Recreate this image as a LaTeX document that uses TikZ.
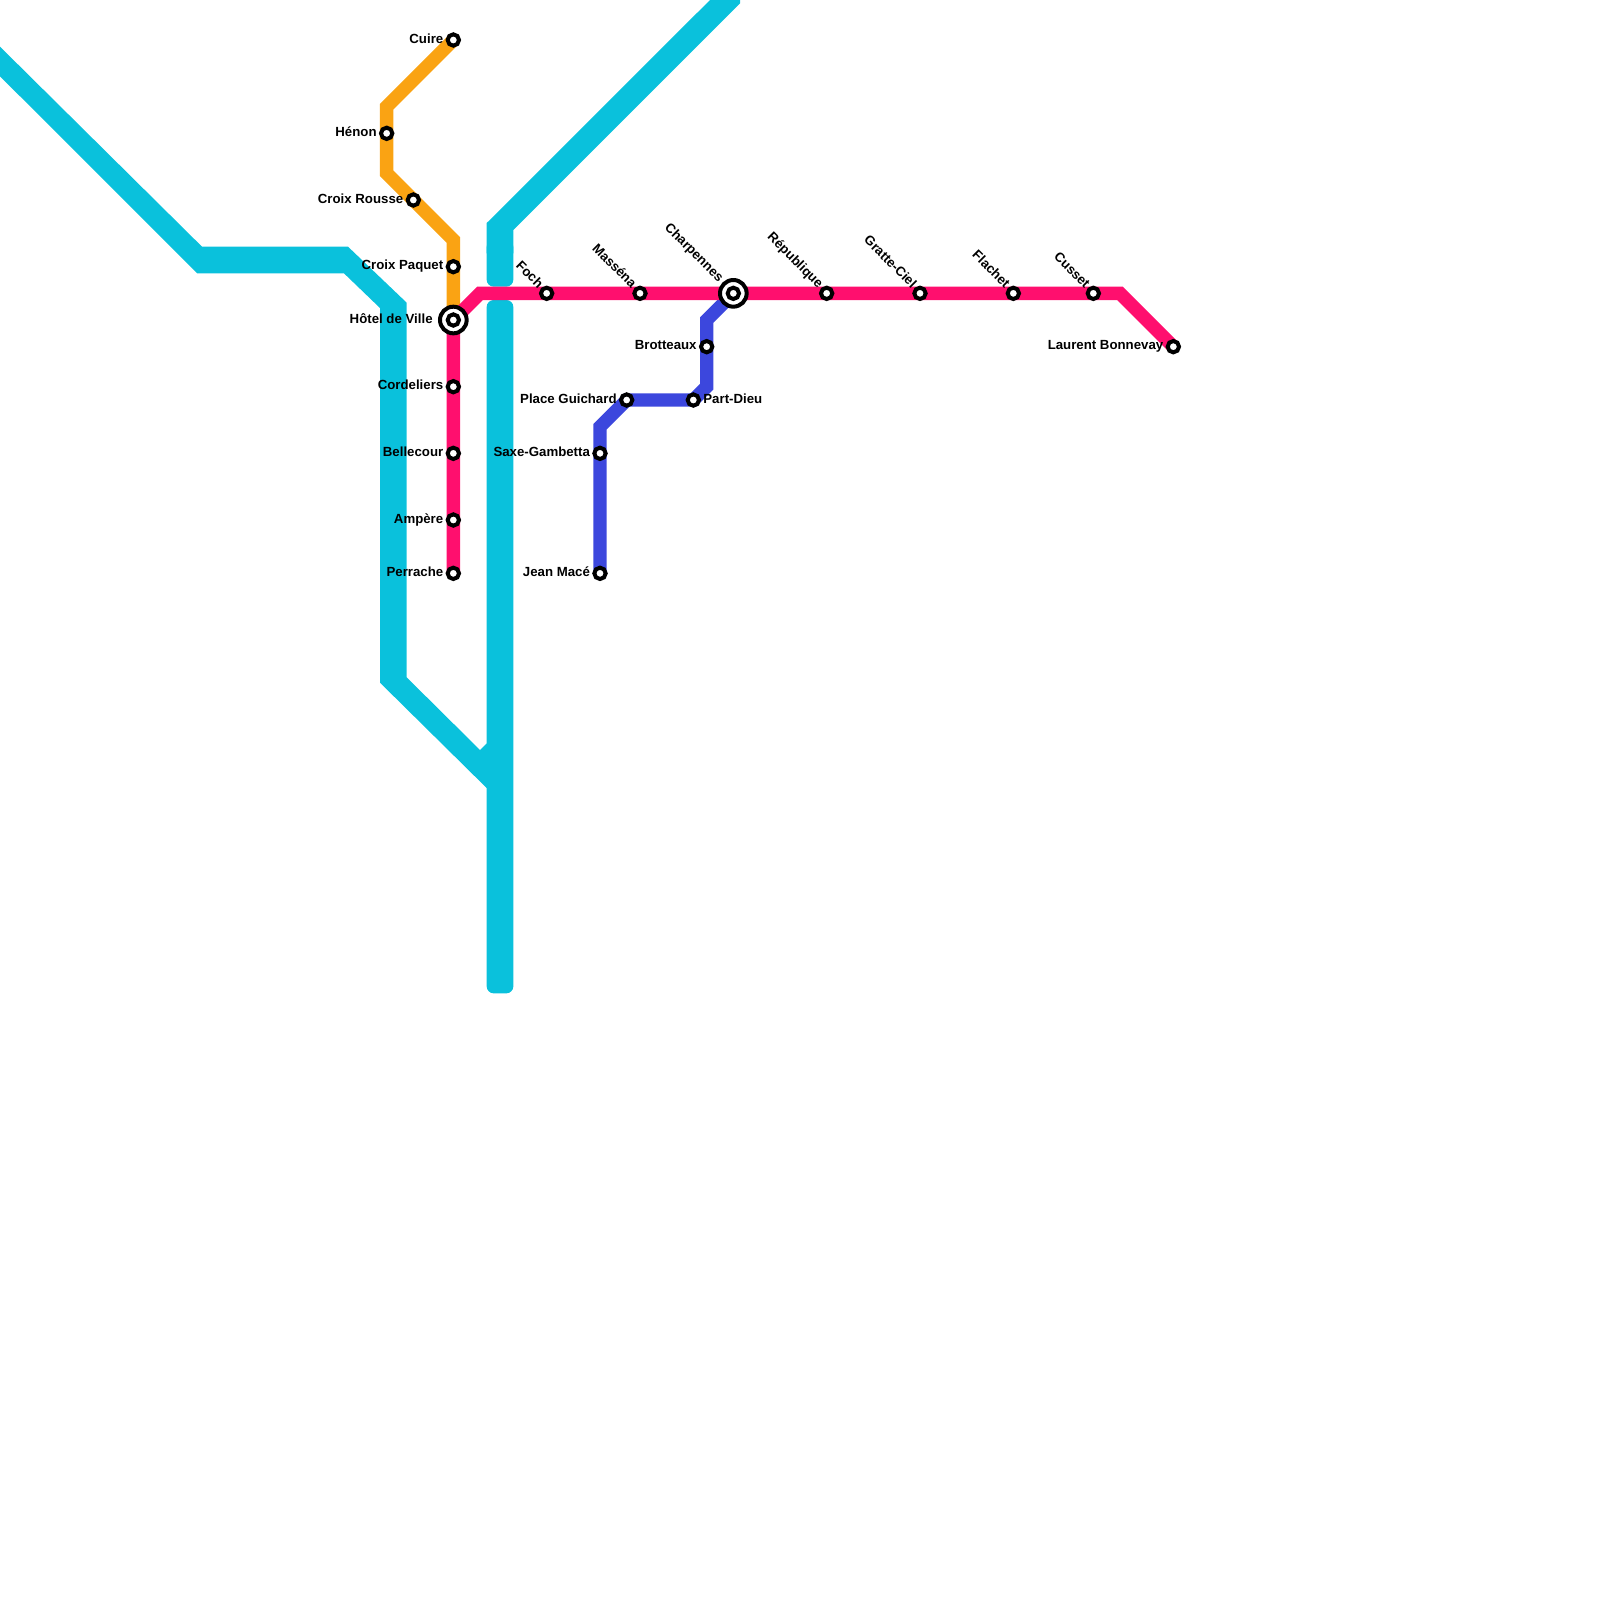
\documentclass[tikz,border=0pt]{standalone}
\usepackage{fontspec}
\setmainfont{Liberation Sans}
\usetikzlibrary{positioning, backgrounds}
\definecolor{lineA}{HTML}{FF0F6E}
\definecolor{lineB}{HTML}{3C47DD}
\definecolor{lineC}{HTML}{FAA313}
\definecolor{lineD}{HTML}{0AC1DC}
\tikzstyle{track} = [line width=6.67pt]
\tikzstyle{station} = [circle, draw=black, fill=white, line width=2pt, inner sep=0pt, minimum size=5.67pt]
\tikzstyle{hub} = [circle, draw=black, fill=white, line width=2pt, inner sep=0pt, minimum size=13.33pt]
\tikzstyle{lbl} = [font=\bfseries\fontsize{6.62pt}{8pt}\selectfont, inner sep=0pt, text height=4.8pt, text depth=1.8pt]
\tikzstyle{slanted} = [lbl, rotate=-45]

\begin{document}
\begin{tikzpicture}[x=6.6667pt, y=-6.6667pt]
\useasboundingbox (0,0) rectangle (120,120);
\clip (0,0) rectangle (120,120);

% Coordinates
\coordinate (o1) at (29,8);
\coordinate (o2) at (29,13);
\coordinate (o3) at (34,18);
\coordinate (p1) at (36,22);
\coordinate (p2) at (84,22);
\coordinate (b1) at (45,32);
\coordinate (b2) at (53,29);
\coordinate (b3) at (53,24);

% Stations
\node (cuire) [station] at (34,3) {};
\node (henon) [station] at (29,10) {};
\node (rousse) [station] at (31,15) {};
\node (paquet) [station] at (34,20) {};
\node (ville) [hub] at (34,24) {};
\node (ville2) [station] at (34,24) {};
\node (cordeliers) [station] at (34,29) {};
\node (bellecour) [station] at (34,34) {};
\node (ampere) [station] at (34,39) {};
\node (perrache) [station] at (34,43) {};
\node (foch) [station] at (41,22) {};
\node (massena) [station] at (48,22) {};
\node (charpennes) [hub] at (55,22) {};
\node (charpennes2) [station] at (55,22) {};
\node (republique) [station] at (62,22) {};
\node (gratte) [station] at (69,22) {};
\node (flachet) [station] at (76,22) {};
\node (cusset) [station] at (82,22) {};
\node (bonnevay) [station] at (88,26) {};
\node (brotteaux) [station] at (53,26) {};
\node (partdieu) [station] at (52,30) {};
\node (guichard) [station] at (47,30) {};
\node (saxe) [station] at (45,34) {};
\node (mace) [station] at (45,43) {};

% Lines
\begin{pgfonlayer}{background}
\fill [lineD] (0,3.5) -- (15.15,18.5) -- (26.1,18.5) -- (30.5,22.7) -- (30.5,50.8) -- (36,56.25) -- (36.5,55.75) -- (37,58) -- (36.5,59.1) -- (28.5,51.2) -- (28.5,23.1) -- (25.8,20.5) -- (14.8,20.5) -- (0,5.72) -- cycle;
\fill [lineD, rounded corners=3.5pt] (36.5,22.5) rectangle (38.5,74.5);
\fill [lineD] (36.5,19) -- (36.5,16.73) -- (53.25,0) -- (55.5,0) -- (55.5,0.25) -- (38.5,17.25) -- (38.5,19) -- cycle;
\fill [lineD, rounded corners=3.5pt] (36.5,18) rectangle (38.5,21.5);
\draw [track, lineC] (cuire.center) -- (o1) -- (henon.center) -- (o2) -- (rousse.center) -- (o3) -- (paquet.center) -- (ville.center);
\draw [track, lineB] (mace.center) -- (saxe.center) -- (b1) -- (guichard.center) -- (partdieu.center) -- (b2) -- (brotteaux.center) -- (b3) -- (charpennes.center);
\draw [track, lineA] (perrache.center) -- (ampere.center) -- (bellecour.center) -- (cordeliers.center) -- (ville.center) -- (p1) -- (foch.center) -- (massena.center) -- (charpennes.center) -- (republique.center) -- (gratte.center) -- (flachet.center) -- (cusset.center) -- (p2) -- (bonnevay.center);
\end{pgfonlayer}

% Names
\node (tcuire) [lbl, left=1pt of cuire] {Cuire};
\node (thenon) [lbl, left=1pt of henon] {Hénon};
\node (trousse) [lbl, left=1pt of rousse] {Croix Rousse};
\node (tpaquet) [lbl, left=1pt of paquet] {Croix Paquet};
\node (tville) [lbl, left=2.5pt of ville] {Hôtel de Ville};
\node (tcordeliers) [lbl, left=1pt of cordeliers] {Cordeliers};
\node (tbellecour) [lbl, left=1pt of bellecour] {Bellecour};
\node (tampere) [lbl, left=1pt of ampere] {Ampère};
\node (tperrache) [lbl, left=1pt of perrache] {Perrache};
\node (tbonnevay) [lbl, left=1pt of bonnevay] {Laurent Bonnevay};
\node (tbrotteaux) [lbl, left=1pt of brotteaux] {Brotteaux};
\node (tguichard) [lbl, left=1pt of guichard] {Place Guichard};
\node (tsaxe) [lbl, left=1pt of saxe] {Saxe-Gambetta};
\node (tmace) [lbl, left=1pt of mace] {Jean Macé};
\node (tpartdieu) [lbl, right=1pt of partdieu] {Part-Dieu};
\node (tfoch) [slanted, above left=0.5pt and 0.5pt of foch, anchor=east] {Foch};
\node (tmassena) [slanted, above left=0.5pt and 0.5pt of massena, anchor=east] {Masséna};
\node (tcharpennes) [slanted, above left=0.9pt and 0.9pt of charpennes, anchor=east] {Charpennes};
\node (trepublique) [slanted, above left=0.5pt and 0.5pt of republique, anchor=east] {République};
\node (tgratte) [slanted, above left=0.5pt and 0.5pt of gratte, anchor=east] {Gratte-Ciel};
\node (tflachet) [slanted, above left=0.5pt and 0.5pt of flachet, anchor=east] {Flachet};
\node (tcusset) [slanted, above left=0.5pt and 0.5pt of cusset, anchor=east] {Cusset};
\end{tikzpicture}
\end{document}
